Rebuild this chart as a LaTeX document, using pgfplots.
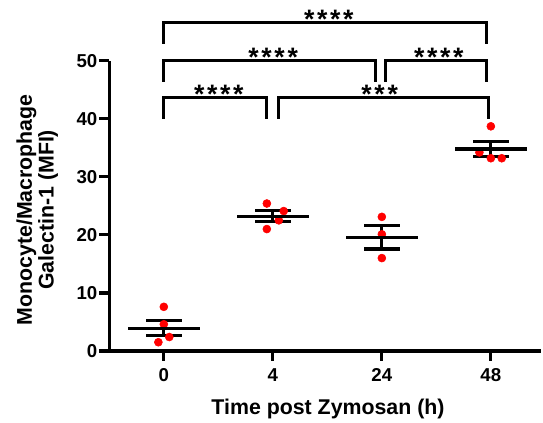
\documentclass[border=0pt]{standalone}
\usepackage{fontspec}
\setmainfont{Liberation Sans}
\usepackage{pgfplots}
\pgfplotsset{compat=1.18}

% group positions: 0 -> 0 h, 1 -> 4 h, 2 -> 24 h, 3 -> 48 h
\newcommand{\stars}[1]{{\fontsize{20}{20}\selectfont\bfseries #1}}

\begin{document}
\begin{tikzpicture}
\begin{axis}[
    scale only axis,
    width=323.8pt,
    height=217.7pt,
    xmin=-0.5, xmax=3.46,
    ymin=0, ymax=50,
    clip=false,
    axis x line=bottom,
    axis y line=left,
    axis line style={-, line width=2.4pt},
    tick style={black, line width=2.4pt},
    tick align=outside,
    major tick length=7.5pt,
    xtick={0,1,2,3},
    xticklabels={0,4,24,48},
    ytick={0,10,20,30,40,50},
    /pgf/number format/assume math mode=true,
    tick label style={font=\fontsize{14}{16}\selectfont\bfseries},
    xticklabel style={anchor=north, yshift=-2pt},
    yticklabel style={anchor=east, xshift=2pt},
    xlabel={Time post Zymosan (h)},
    xlabel style={font=\fontsize{16}{18}\selectfont\bfseries, at={(rel axis cs:0.5066,0)}, anchor=base, yshift=-48pt},
    ylabel={Monocyte/Macrophage\\Galectin-1 (MFI)},
    ylabel style={font=\fontsize{16}{16.3}\selectfont\bfseries, align=center, at={(rel axis cs:0,0.486)}, anchor=center, yshift=54pt},
]
% individual animals
\addplot[only marks, mark=*, mark size=3pt, color=red, mark options={fill=red, draw=red}] coordinates {
    (0,7.6) (0,4.6) (0.05,2.4) (-0.05,1.5)
    (0.945,25.4) (1.1,24.1) (1.055,22.5) (0.945,21.0)
    (2,23.1) (2,20.1) (2,16.0)
    (3,38.7) (2.895,34.2) (3,33.2) (3.1,33.2)
};
% mean +- SEM
\addplot[only marks, mark=-, mark size=27pt, color=black, mark options={line width=2.5pt},
    error bars/.cd, y dir=both, y explicit,
    error mark=|,
    error bar style={line width=2.4pt, black},
    error mark options={line width=2.4pt, mark size=13.3pt, black}] coordinates {
    (0,3.9) +- (0,1.3)
    (1,23.2) +- (0,0.95)
    (2,19.6) +- (0,2.05)
    (3,34.8) +- (0,1.3)
};
% significance brackets
\draw[line width=2.25pt] (axis cs:0,52.9) -- (axis cs:0,56.5) -- (axis cs:2.96,56.5) -- (axis cs:2.96,52.9);
\draw[line width=2.25pt] (axis cs:0,46.4) -- (axis cs:0,50.1) -- (axis cs:1.94,50.1) -- (axis cs:1.94,46.4);
\draw[line width=2.25pt] (axis cs:2.03,46.4) -- (axis cs:2.03,50.1) -- (axis cs:2.96,50.1) -- (axis cs:2.96,46.4);
\draw[line width=2.25pt] (axis cs:0,40.0) -- (axis cs:0,43.6) -- (axis cs:0.94,43.6) -- (axis cs:0.94,40.0);
\draw[line width=2.25pt] (axis cs:1.05,40.0) -- (axis cs:1.05,43.6) -- (axis cs:2.975,43.6) -- (axis cs:2.975,40.0);
\node[anchor=base, inner sep=0pt, yshift=-4.5pt] at (axis cs:1.514,56.5) {\stars{*\kern2pt*\kern2pt*\kern2pt*}};
\node[anchor=base, inner sep=0pt, yshift=-4.5pt] at (axis cs:1.003,50.1) {\stars{*\kern2pt*\kern2pt*\kern2pt*}};
\node[anchor=base, inner sep=0pt, yshift=-4.5pt] at (axis cs:2.523,50.1) {\stars{*\kern2pt*\kern2pt*\kern2pt*}};
\node[anchor=base, inner sep=0pt, yshift=-4.5pt] at (axis cs:0.505,43.6) {\stars{*\kern2pt*\kern2pt*\kern2pt*}};
\node[anchor=base, inner sep=0pt, yshift=-4.5pt] at (axis cs:1.98,43.6) {\stars{*\kern2pt*\kern2pt*}};
\end{axis}
\pgfresetboundingbox
\path[use as bounding box] (-82pt,-54pt) rectangle (325.3pt,263.25pt);
\end{tikzpicture}
\end{document}
